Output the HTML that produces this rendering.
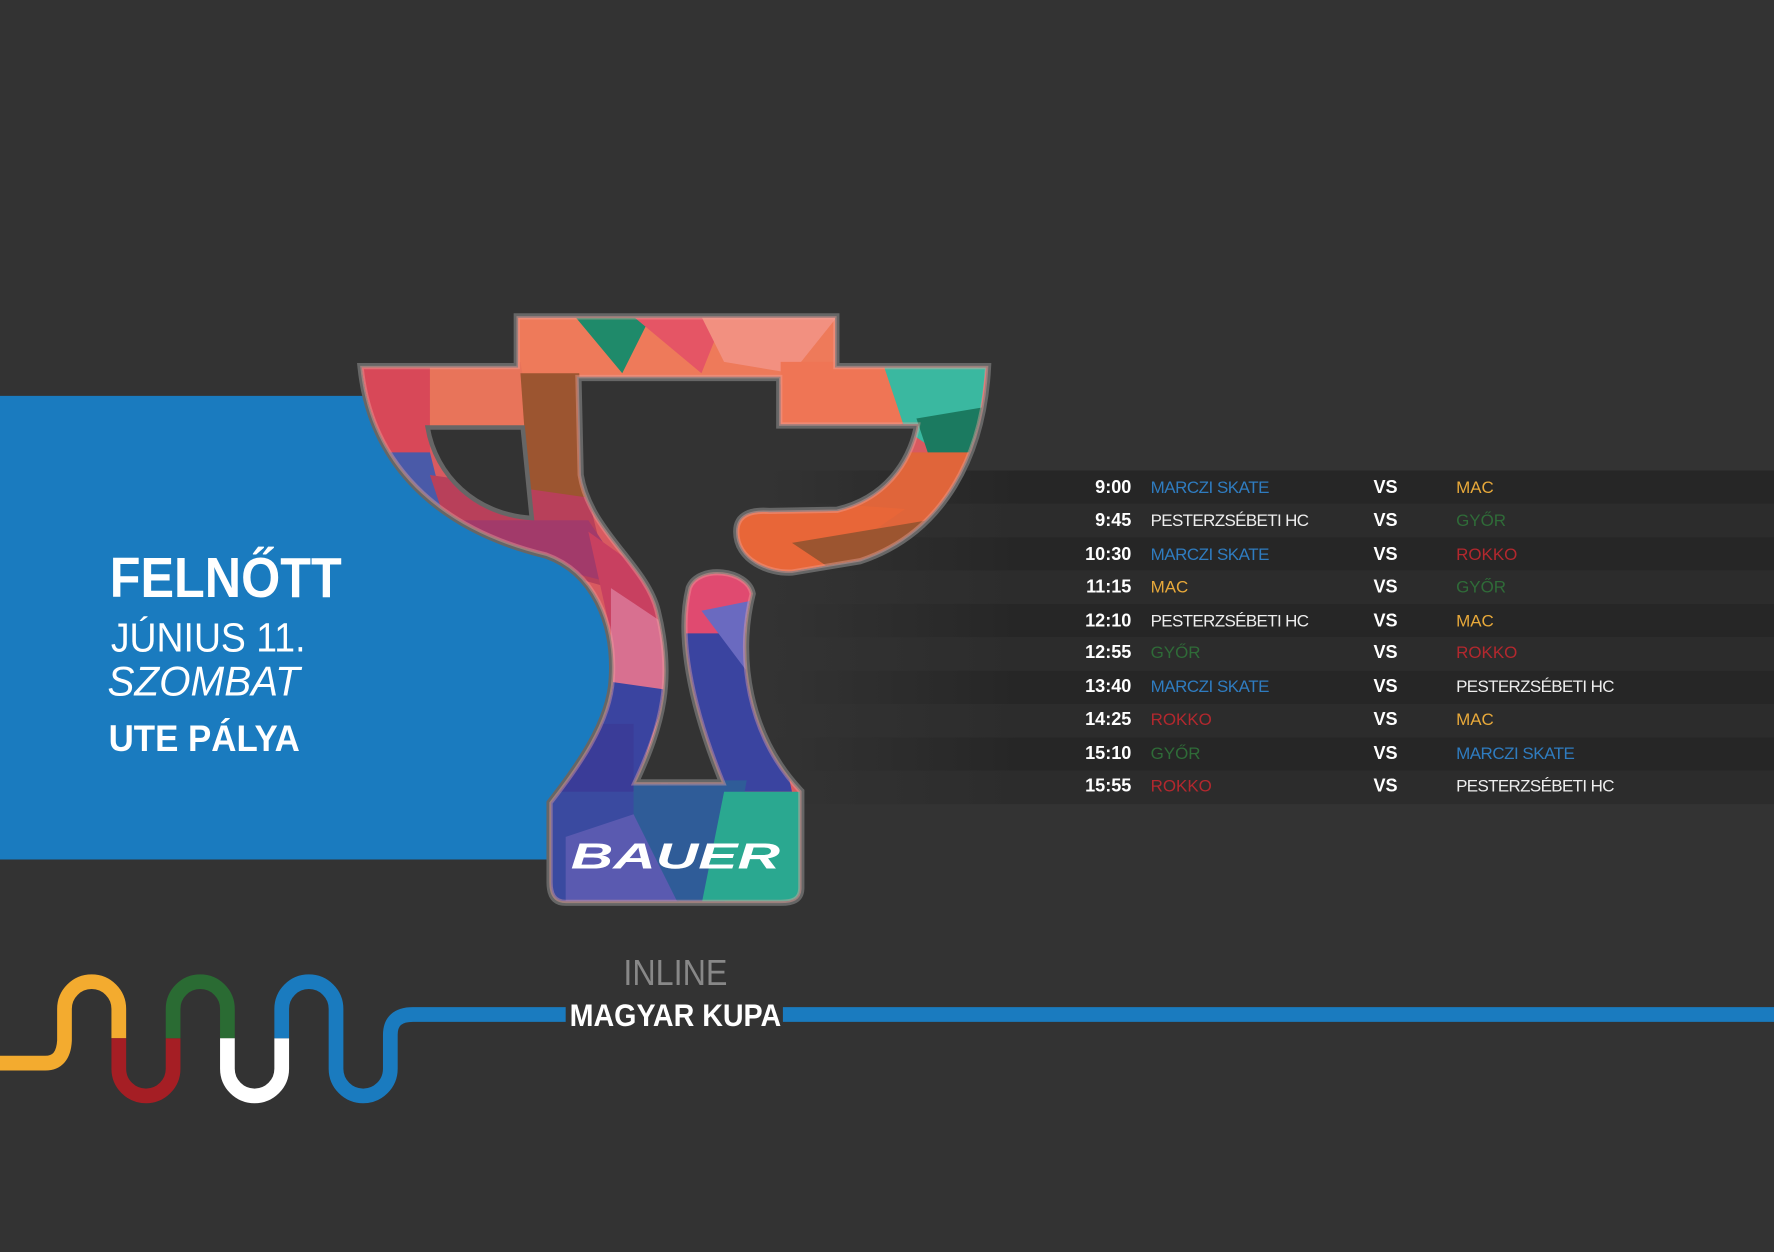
<!DOCTYPE html>
<html><head><meta charset="utf-8"><style>
html,body{margin:0;padding:0;background:#333;}
svg{display:block}
text{font-family:"Liberation Sans",sans-serif}
</style></head><body>
<svg width="1774" height="1252" viewBox="0 0 1568 1107" preserveAspectRatio="none" xmlns="http://www.w3.org/2000/svg">
<defs>
<linearGradient id="fade" x1="0" x2="1" y1="0" y2="0">
<stop offset="0" stop-color="#262626" stop-opacity="0"/><stop offset="0.25" stop-color="#262626" stop-opacity="1"/><stop offset="1" stop-color="#262626"/>
</linearGradient>
<linearGradient id="fade2" x1="0" x2="1" y1="0" y2="0">
<stop offset="0" stop-color="#2c2c2c" stop-opacity="0"/><stop offset="0.25" stop-color="#2c2c2c"/><stop offset="1" stop-color="#2c2c2c"/>
</linearGradient>
<clipPath id="tc"><path id="tp" d="M458,281 L738,281 L738,325 L872,325 C868,400 835,470 760,495 L700,505 C680,506 652,495 652,470 C652,455 665,452 680,453 L740,452 C790,440 808,400 812,375 L690,375 L690,333 L510,333 L512,420 C520,470 570,500 580,540 C595,600 585,640 560,693 L640,693 C610,620 600,560 610,520 C618,500 660,505 664,525 C650,580 660,650 707,700 L707,785 C707,795 700,797 690,797 L500,797 C490,797 487,790 487,780 L487,710 C510,680 540,640 542,600 C545,550 525,505 483,490 C400,470 330,420 320,325 L458,325 Z"/></clipPath>
</defs>
<rect width="1568" height="1107" fill="#333"/>
<path d="M0,350 L512,350 L512,490 C525,505 545,550 542,600 C540,640 510,680 487,710 L487,760 L0,760 Z" fill="#1a7bbf"/>
<!-- table rows -->
<g>
<rect x="680" y="416" width="888" height="29.5" fill="url(#fade)"/>
<rect x="680" y="445.5" width="888" height="29.5" fill="url(#fade2)"/>
<rect x="680" y="475" width="888" height="29.5" fill="url(#fade)"/>
<rect x="680" y="504.5" width="888" height="29.5" fill="url(#fade2)"/>
<rect x="680" y="534" width="888" height="29.5" fill="url(#fade)"/>
<rect x="680" y="563.5" width="888" height="29.5" fill="url(#fade2)"/>
<rect x="680" y="593" width="888" height="29.5" fill="url(#fade)"/>
<rect x="680" y="622.5" width="888" height="29.5" fill="url(#fade2)"/>
<rect x="680" y="652" width="888" height="29.5" fill="url(#fade)"/>
<rect x="680" y="681.5" width="888" height="29.5" fill="url(#fade2)"/>
</g>
<g font-size="16">
<g font-weight="bold" fill="#fff" text-anchor="end">
<text x="1000" y="436">9:00</text><text x="1000" y="465">9:45</text><text x="1000" y="495">10:30</text><text x="1000" y="524">11:15</text><text x="1000" y="554">12:10</text><text x="1000" y="582">12:55</text><text x="1000" y="612">13:40</text><text x="1000" y="641">14:25</text><text x="1000" y="671">15:10</text><text x="1000" y="700">15:55</text>
</g>
<g font-weight="bold" fill="#fff">
<text x="1214" y="436">VS</text><text x="1214" y="465">VS</text><text x="1214" y="495">VS</text><text x="1214" y="524">VS</text><text x="1214" y="554">VS</text><text x="1214" y="582">VS</text><text x="1214" y="612">VS</text><text x="1214" y="641">VS</text><text x="1214" y="671">VS</text><text x="1214" y="700">VS</text>
</g>
<g font-size="15" transform="scale(1,1)">
<text x="1017" y="436" fill="#2f7cc0" textLength="105">MARCZI SKATE</text><text x="1287" y="436" fill="#e8a93a">MAC</text>
<text x="1017" y="465" fill="#eee" textLength="140">PESTERZSÉBETI HC</text><text x="1287" y="465" fill="#2f6b38">GYŐR</text>
<text x="1017" y="495" fill="#2f7cc0" textLength="105">MARCZI SKATE</text><text x="1287" y="495" fill="#b3282e">ROKKO</text>
<text x="1017" y="524" fill="#e8a93a">MAC</text><text x="1287" y="524" fill="#2f6b38">GYŐR</text>
<text x="1017" y="554" fill="#eee" textLength="140">PESTERZSÉBETI HC</text><text x="1287" y="554" fill="#e8a93a">MAC</text>
<text x="1017" y="582" fill="#2f6b38">GYŐR</text><text x="1287" y="582" fill="#b3282e">ROKKO</text>
<text x="1017" y="612" fill="#2f7cc0" textLength="105">MARCZI SKATE</text><text x="1287" y="612" fill="#eee" textLength="140">PESTERZSÉBETI HC</text>
<text x="1017" y="641" fill="#b3282e">ROKKO</text><text x="1287" y="641" fill="#e8a93a">MAC</text>
<text x="1017" y="671" fill="#2f6b38">GYŐR</text><text x="1287" y="671" fill="#2f7cc0" textLength="105">MARCZI SKATE</text>
<text x="1017" y="700" fill="#b3282e">ROKKO</text><text x="1287" y="700" fill="#eee" textLength="140">PESTERZSÉBETI HC</text>
</g>
</g>
<!-- left texts -->
<text x="97" y="528" fill="#fff" font-weight="bold" font-size="50" textLength="205" lengthAdjust="spacingAndGlyphs">FELNŐTT</text>
<text x="98" y="576" fill="#fff" font-size="36" textLength="172" lengthAdjust="spacingAndGlyphs">JÚNIUS 11.</text>
<text x="95" y="615" fill="#fff" font-size="37" font-style="italic" textLength="170" lengthAdjust="spacingAndGlyphs">SZOMBAT</text>
<text x="96" y="664" fill="#fff" font-weight="bold" font-size="33" textLength="169" lengthAdjust="spacingAndGlyphs">UTE PÁLYA</text>
<!-- trophy -->
<use href="#tp" fill="none" stroke="#666" stroke-width="8"/>
<g clip-path="url(#tc)">
<rect x="300" y="270" width="600" height="540" fill="#d85a60"/>
<polygon points="458,270 740,270 740,340 458,340" fill="#ee7a5a"/>
<polygon points="500,270 580,270 550,330" fill="#1f8a6a"/>
<polygon points="560,280 640,280 620,330" fill="#e55565"/>
<polygon points="620,280 740,280 700,330 640,320" fill="#f29080"/>
<polygon points="690,320 872,320 790,380 690,380" fill="#ef7555"/>
<polygon points="780,320 872,320 860,420 800,380" fill="#3ab8a0"/>
<polygon points="810,370 870,360 850,420 820,400" fill="#1b7a60"/>
<polygon points="760,400 880,400 850,520 700,510" fill="#e0653a"/>
<polygon points="650,440 800,450 700,520 650,510" fill="#e86638"/>
<polygon points="700,480 820,460 760,520" fill="#9c5530"/>
<polygon points="300,320 460,320 470,380 300,400" fill="#e8745a"/>
<polygon points="300,320 380,320 380,400 300,420" fill="#d84858"/>
<polygon points="300,400 380,400 400,480 300,470" fill="#4a5aa8"/>
<polygon points="460,330 512,330 520,480 470,470" fill="#9c5530"/>
<polygon points="380,420 520,440 540,520 400,480" fill="#b8405a"/>
<polygon points="400,460 520,460 560,520 480,500" fill="#a23a6a"/>
<polygon points="520,470 590,520 580,600 540,560" fill="#c84060"/>
<polygon points="540,520 600,560 590,700 540,640" fill="#d87090"/>
<polygon points="520,600 590,610 560,700 500,700" fill="#3a44a0"/>
<polygon points="600,500 670,500 660,560 600,560" fill="#e04a70"/>
<polygon points="600,560 670,560 700,700 610,700" fill="#3a44a0"/>
<polygon points="620,540 670,530 680,620" fill="#6a6ac0"/>
<polygon points="480,640 560,640 560,700 480,720" fill="#3a3c98"/>
<polygon points="480,700 600,700 600,800 480,800" fill="#3a4aa0"/>
<polygon points="560,690 660,690 640,800 560,800" fill="#2f5c98"/>
<polygon points="640,700 720,700 720,800 620,800" fill="#2aa890"/>
<polygon points="500,740 560,720 600,800 500,800" fill="#5a5ab0"/>
</g>
<path d="M378,378 L462,378 L470,458 C420,455 385,420 378,378 Z" fill="#333" stroke="#666" stroke-width="4"/>
<use href="#tp" fill="none" stroke="#f0a8a0" stroke-opacity="0.4" stroke-width="3"/>
<text x="597" y="768" fill="#fff" font-weight="bold" font-style="italic" font-size="32" text-anchor="middle" textLength="185" lengthAdjust="spacingAndGlyphs">BAUER</text>
<!-- bottom -->
<text x="597" y="871" fill="#888" font-size="32" text-anchor="middle" textLength="92" lengthAdjust="spacingAndGlyphs">INLINE</text>
<text x="597" y="907" fill="#fff" font-weight="bold" font-size="28" text-anchor="middle" textLength="187" lengthAdjust="spacingAndGlyphs">MAGYAR KUPA</text>
<g fill="none" stroke-width="13" stroke-linecap="butt">
<path d="M0,940 L40,940 Q56,940 57,920 L57,892 A24,24 0 0 1 105,892 L105,918" stroke="#f3ab2f"/>
<path d="M105,918 L105,945 A24,24 0 0 0 153,945 L153,918" stroke="#a51e24"/>
<path d="M153,918 L153,892 A24,24 0 0 1 201,892 L201,918" stroke="#2a6b33"/>
<path d="M201,918 L201,945 A24,24 0 0 0 249,945 L249,918" stroke="#ffffff"/>
<path d="M249,918 L249,892 A24,24 0 0 1 297,892 L297,945 A24,24 0 0 0 345,945 L345,915 Q345,897 365,897 L500,897" stroke="#1a7bbf"/>
<path d="M692,897 L1568,897" stroke="#1a7bbf"/>
</g>
</svg>
</body></html>
